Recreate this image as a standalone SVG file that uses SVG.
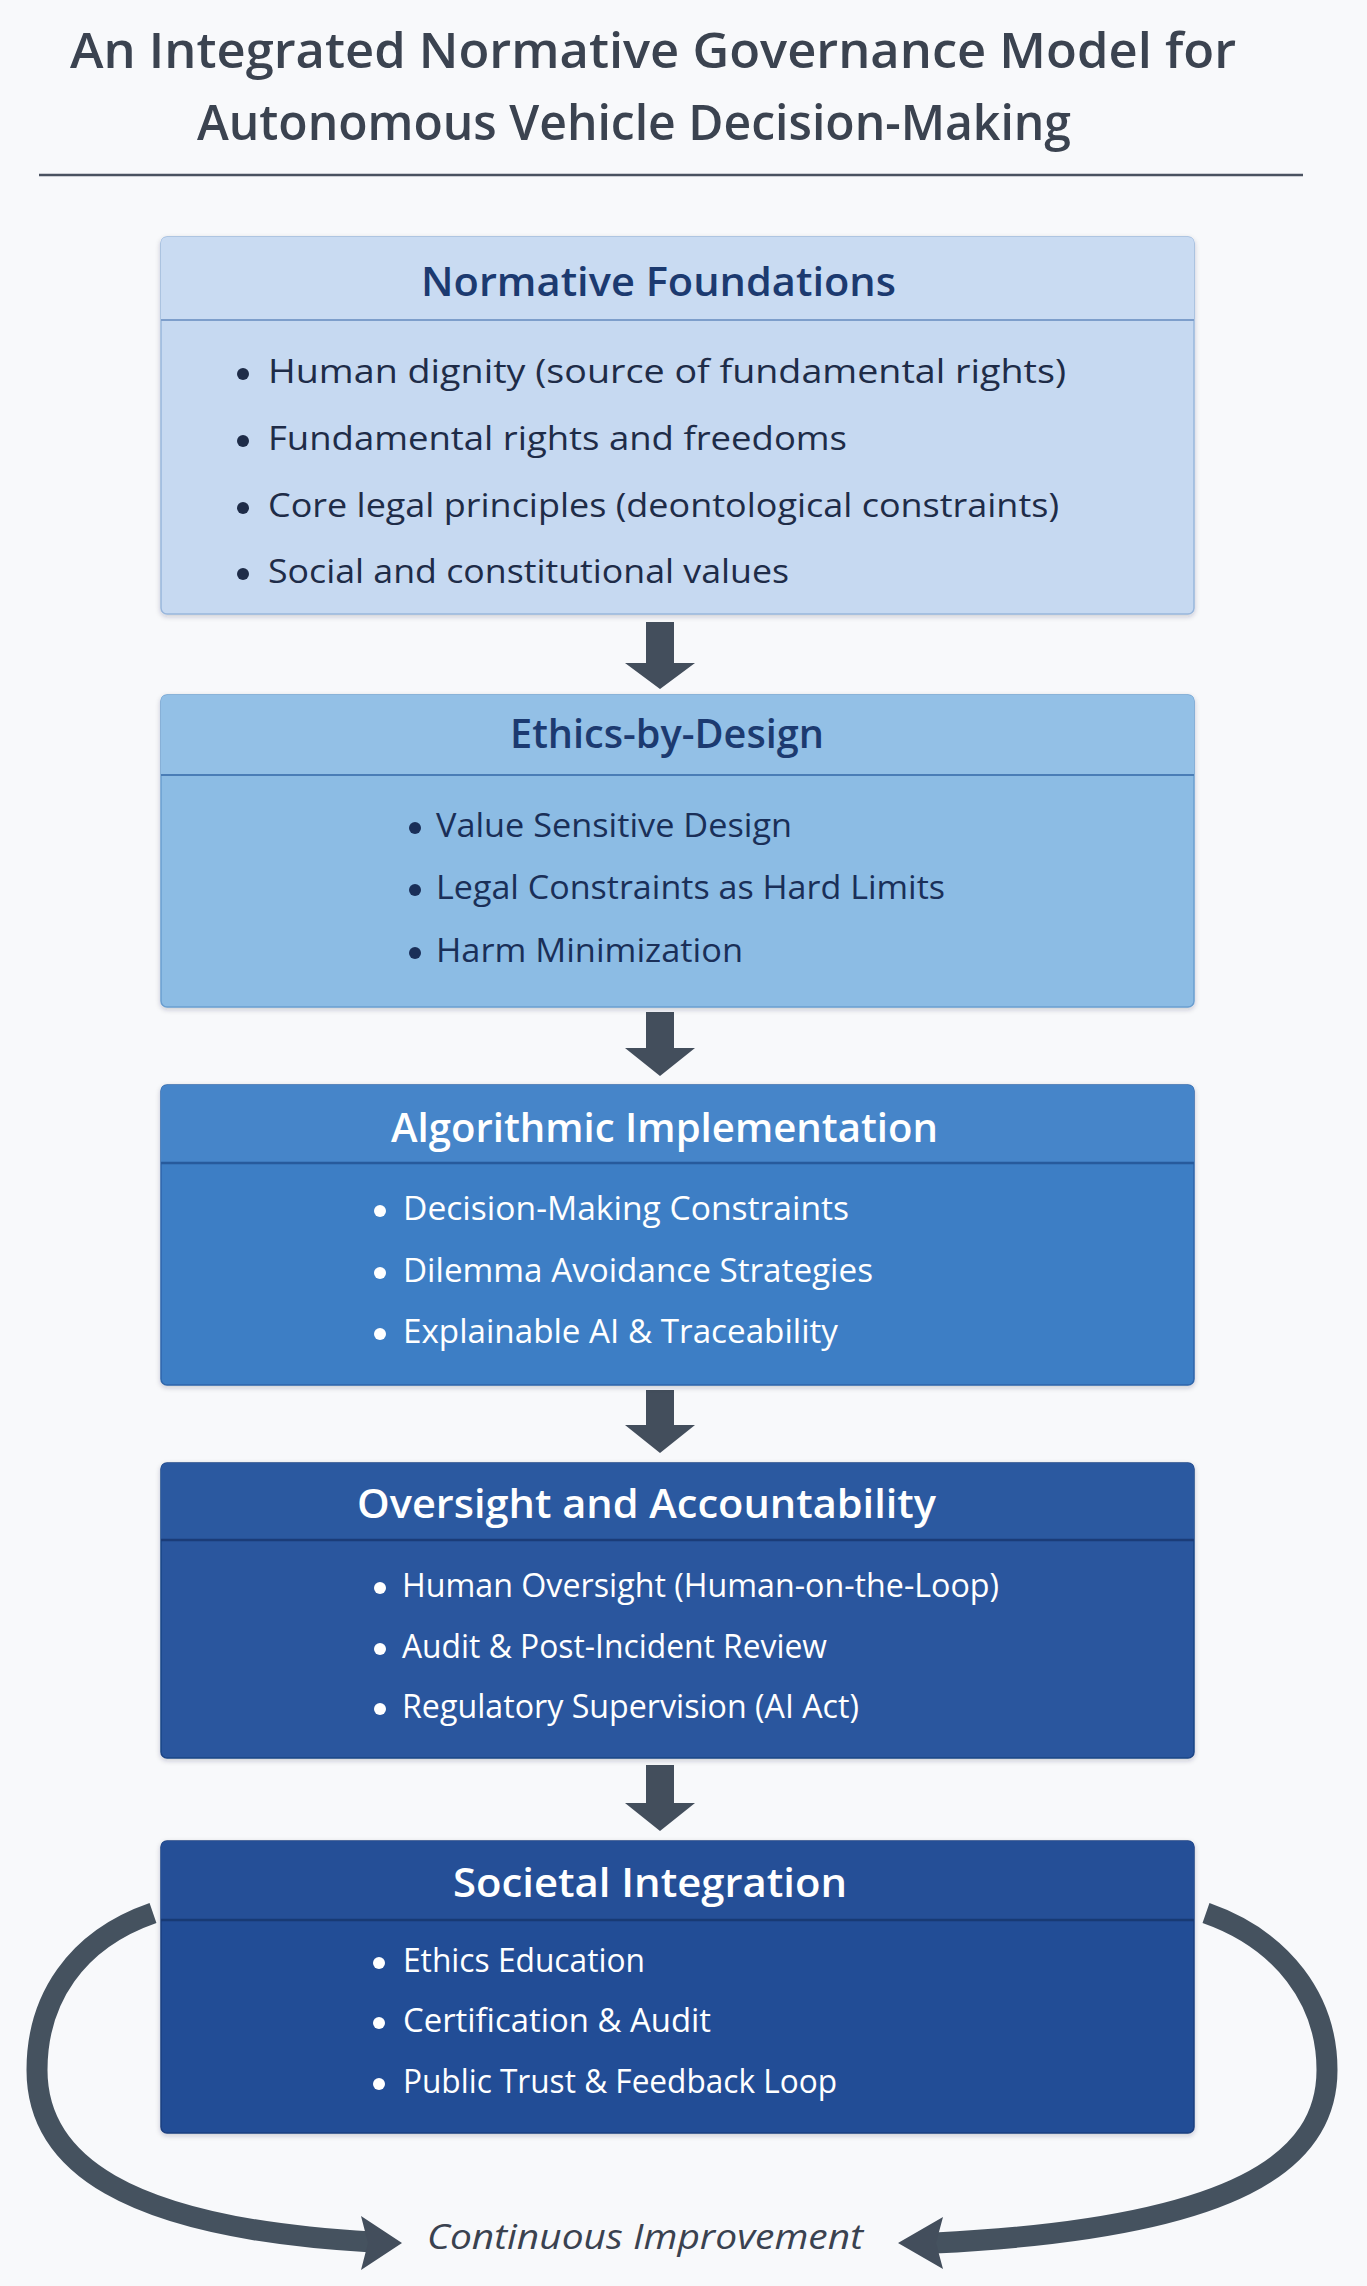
<svg xmlns="http://www.w3.org/2000/svg" width="1367" height="2286" viewBox="0 0 1367 2286">
<style>
.ttl{font-family:"Open Sans","Liberation Sans",sans-serif;font-size:48px;font-weight:600;fill:#3b4350}
.hd{font-family:"Open Sans","Liberation Sans",sans-serif;font-size:39px;font-weight:600}
.bl{font-family:"Open Sans","Liberation Sans",sans-serif;font-size:32px}
.dk{fill:#1c3a70}
.dkb{fill:#1e2c48}
.wt{fill:#ffffff}
.arw{fill:#434e5c}
.loop{fill:none;stroke:#45525f;stroke-width:21}
.ci{font-family:"Open Sans","Liberation Sans",sans-serif;font-size:34px;font-style:italic;fill:#3a4250}
</style>
<defs>
<filter id="sh" x="-5%" y="-5%" width="110%" height="115%">
<feDropShadow dx="0" dy="2" stdDeviation="2.5" flood-color="#1a2a40" flood-opacity="0.22"/>
</filter>
</defs>
<rect width="1367" height="2286" fill="#f8f9fb"/>
<g id="title">
<text class="ttl" x="70" y="68" textLength="1166" lengthAdjust="spacingAndGlyphs">An Integrated Normative Governance Model for</text>
<text class="ttl" x="197" y="140" textLength="874" lengthAdjust="spacingAndGlyphs">Autonomous Vehicle Decision-Making</text>
<line x1="39" y1="175" x2="1303" y2="175" stroke="#4a5260" stroke-width="2.5"/>
</g>
<g id="connectors">
<polygon class="arw" points="646,622 674,622 674,663 695,663 660,689 625,663 646,663"/>
<polygon class="arw" points="646,1012 674,1012 674,1048 695,1048 660,1076 625,1048 646,1048"/>
<polygon class="arw" points="646,1390 674,1390 674,1425 695,1425 660,1453 625,1425 646,1425"/>
<polygon class="arw" points="646,1765 674,1765 674,1803 695,1803 660,1831 625,1803 646,1803"/>
<path class="loop" d="M 153 1913 C 75 1940, 37 2000, 37 2070 C 37 2160, 120 2228, 372 2242"/>
<polygon class="arw" points="361,2216 402,2243 361,2270 368,2243"/>
<path class="loop" d="M 1206 1913 C 1283 1940, 1327 2000, 1327 2070 C 1327 2160, 1240 2228, 935 2243"/>
<polygon class="arw" points="943,2217 898,2243 943,2269 936,2243"/>
</g>
<g id="normative-foundations">
<rect x="161" y="237" width="1033" height="377" rx="6" fill="#c6d9f1" stroke="#98b6dc" stroke-width="1.5" filter="url(#sh)"/>
<path d="M161 320 V243 Q161 237 167 237 H1188 Q1194 237 1194 243 V320 Z" fill="#c9dbf2"/>
<line x1="161" y1="320" x2="1194" y2="320" stroke="#7d9ecb" stroke-width="2"/>
<text class="hd dk" x="421" y="296" textLength="475" lengthAdjust="spacingAndGlyphs">Normative Foundations</text>
<g class="dkb">
<circle cx="243" cy="374" r="6"/><circle cx="243" cy="441" r="6"/><circle cx="243" cy="508" r="6"/><circle cx="243" cy="574" r="6"/>
<text class="bl" x="268" y="383" textLength="798" lengthAdjust="spacingAndGlyphs">Human dignity (source of fundamental rights)</text>
<text class="bl" x="268" y="450" textLength="579" lengthAdjust="spacingAndGlyphs">Fundamental rights and freedoms</text>
<text class="bl" x="268" y="517" textLength="791" lengthAdjust="spacingAndGlyphs">Core legal principles (deontological constraints)</text>
<text class="bl" x="268" y="583" textLength="521" lengthAdjust="spacingAndGlyphs">Social and constitutional values</text>
</g>
</g>
<g id="ethics-by-design">
<rect x="161" y="695" width="1033" height="312" rx="6" fill="#8cbce4" stroke="#6a9ed0" stroke-width="1.5" filter="url(#sh)"/>
<path d="M161 775 V701 Q161 695 167 695 H1188 Q1194 695 1194 701 V775 Z" fill="#93c0e6"/>
<line x1="161" y1="775" x2="1194" y2="775" stroke="#4a7db6" stroke-width="2"/>
<text class="hd dk" x="510" y="748" textLength="314" lengthAdjust="spacingAndGlyphs">Ethics-by-Design</text>
<g fill="#1a2f58">
<circle cx="415" cy="828" r="6"/><circle cx="415" cy="890" r="6"/><circle cx="415" cy="953" r="6"/>
<text class="bl" x="436" y="837" textLength="356" lengthAdjust="spacingAndGlyphs">Value Sensitive Design</text>
<text class="bl" x="436" y="899" textLength="509" lengthAdjust="spacingAndGlyphs">Legal Constraints as Hard Limits</text>
<text class="bl" x="436" y="962" textLength="307" lengthAdjust="spacingAndGlyphs">Harm Minimization</text>
</g>
</g>
<g id="algorithmic-implementation">
<rect x="161" y="1085" width="1033" height="300" rx="6" fill="#3e7ec5" stroke="#2e66ab" stroke-width="1.5" filter="url(#sh)"/>
<path d="M161 1163 V1091 Q161 1085 167 1085 H1188 Q1194 1085 1194 1091 V1163 Z" fill="#4685c9"/>
<line x1="161" y1="1163" x2="1194" y2="1163" stroke="#275a9c" stroke-width="2.5"/>
<text class="hd wt" x="391" y="1142" textLength="547" lengthAdjust="spacingAndGlyphs">Algorithmic Implementation</text>
<g class="wt">
<circle cx="380" cy="1211" r="6"/><circle cx="380" cy="1273" r="6"/><circle cx="380" cy="1334" r="6"/>
<text class="bl" x="403" y="1220" textLength="446" lengthAdjust="spacingAndGlyphs">Decision-Making Constraints</text>
<text class="bl" x="403" y="1282" textLength="470" lengthAdjust="spacingAndGlyphs">Dilemma Avoidance Strategies</text>
<text class="bl" x="403" y="1343" textLength="435" lengthAdjust="spacingAndGlyphs">Explainable AI &amp; Traceability</text>
</g>
</g>
<g id="oversight-accountability">
<rect x="161" y="1463" width="1033" height="295" rx="6" fill="#29579e" stroke="#1d4587" stroke-width="1.5" filter="url(#sh)"/>
<path d="M161 1540 V1469 Q161 1463 167 1463 H1188 Q1194 1463 1194 1469 V1540 Z" fill="#2b59a0"/>
<line x1="161" y1="1540" x2="1194" y2="1540" stroke="#1b3c78" stroke-width="2.5"/>
<text class="hd wt" x="357" y="1518" textLength="579" lengthAdjust="spacingAndGlyphs">Oversight and Accountability</text>
<g class="wt">
<circle cx="380" cy="1588" r="6"/><circle cx="380" cy="1649" r="6"/><circle cx="380" cy="1709" r="6"/>
<text class="bl" x="402" y="1597" textLength="597" lengthAdjust="spacingAndGlyphs">Human Oversight (Human-on-the-Loop)</text>
<text class="bl" x="402" y="1658" textLength="425" lengthAdjust="spacingAndGlyphs">Audit &amp; Post-Incident Review</text>
<text class="bl" x="402" y="1718" textLength="457" lengthAdjust="spacingAndGlyphs">Regulatory Supervision (AI Act)</text>
</g>
</g>
<g id="societal-integration">
<rect x="161" y="1841" width="1033" height="292" rx="6" fill="#244d96" stroke="#1b3f80" stroke-width="1.5" filter="url(#sh)"/>
<path d="M161 1920 V1847 Q161 1841 167 1841 H1188 Q1194 1841 1194 1847 V1920 Z" fill="#254f97"/>
<line x1="161" y1="1920" x2="1194" y2="1920" stroke="#183a74" stroke-width="2.5"/>
<text class="hd wt" x="453" y="1897" textLength="394" lengthAdjust="spacingAndGlyphs">Societal Integration</text>
<g class="wt">
<circle cx="379" cy="1963" r="6"/><circle cx="379" cy="2023" r="6"/><circle cx="379" cy="2084" r="6"/>
<text class="bl" x="403" y="1972" textLength="242" lengthAdjust="spacingAndGlyphs">Ethics Education</text>
<text class="bl" x="403" y="2032" textLength="308" lengthAdjust="spacingAndGlyphs">Certification &amp; Audit</text>
<text class="bl" x="403" y="2093" textLength="434" lengthAdjust="spacingAndGlyphs">Public Trust &amp; Feedback Loop</text>
</g>
</g>
<g id="continuous-improvement">
<text class="ci" x="427" y="2249" textLength="436" lengthAdjust="spacingAndGlyphs">Continuous Improvement</text>
</g>
</svg>
